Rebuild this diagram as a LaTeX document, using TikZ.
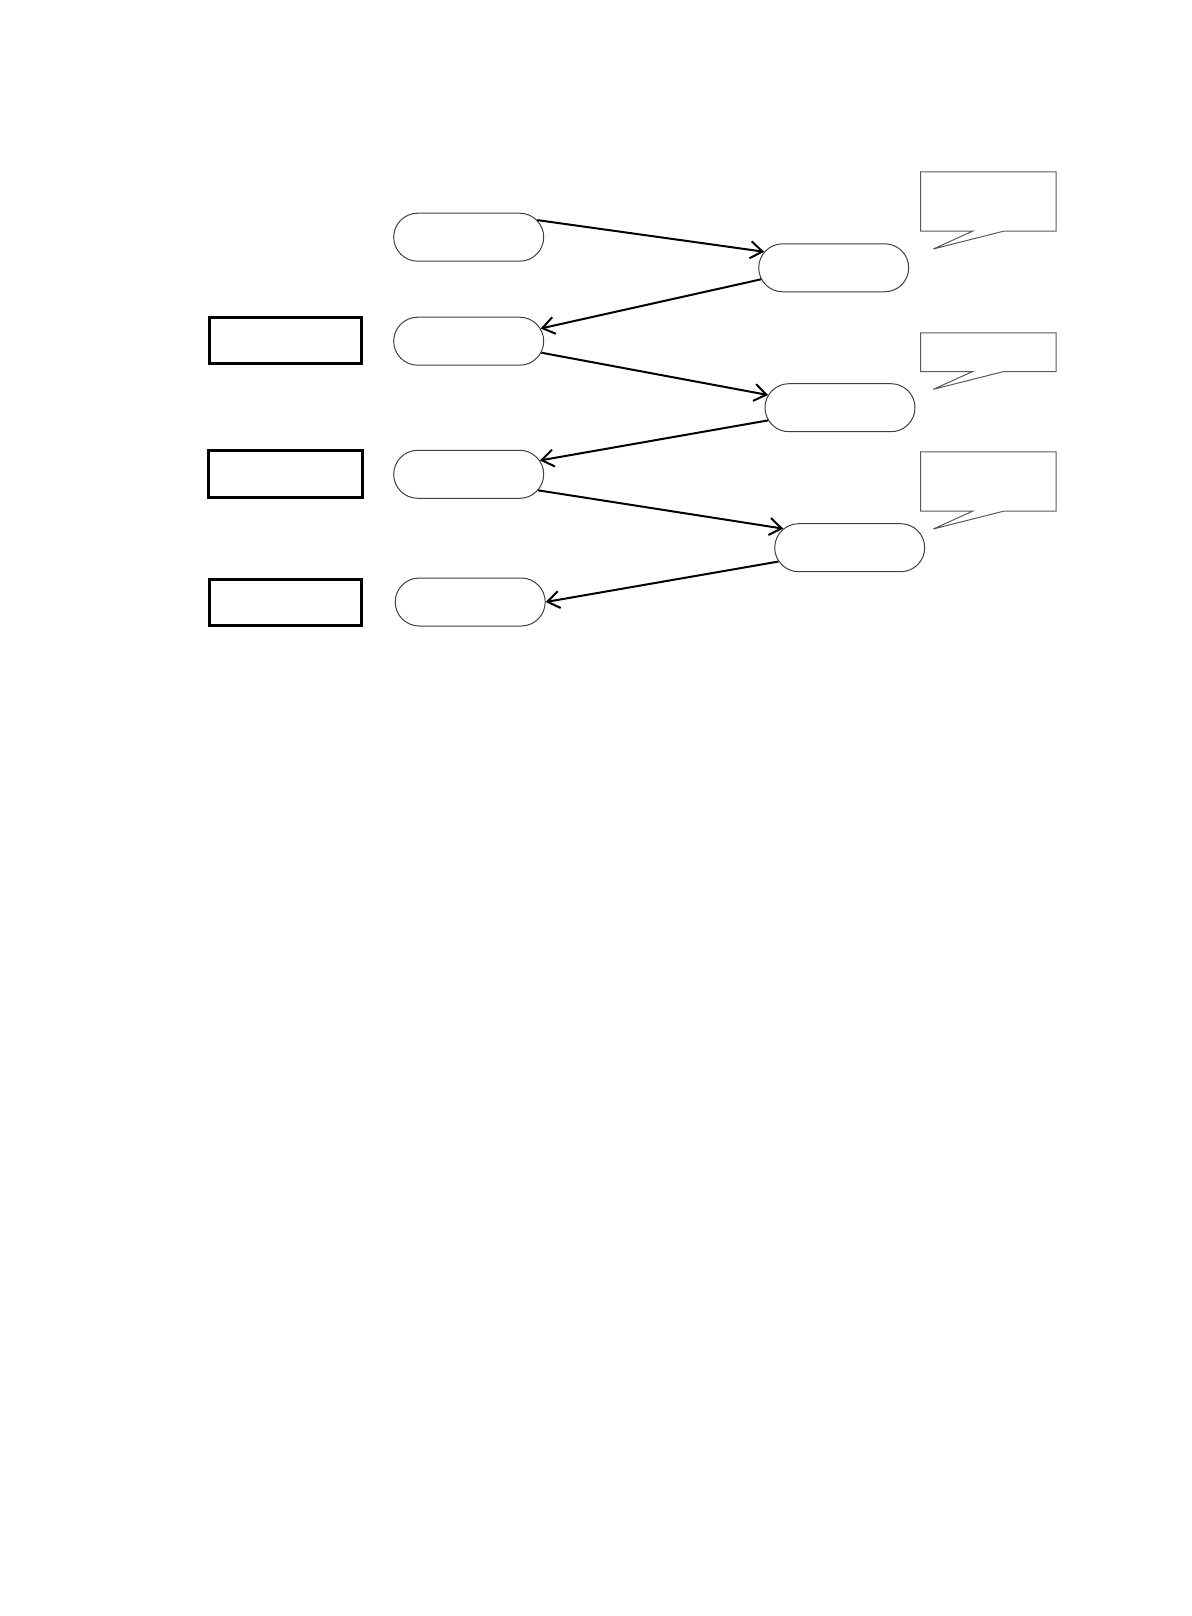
\documentclass[tikz,border=0pt]{standalone}
\usetikzlibrary{shapes.misc,arrows.meta,calc,positioning}
\tikzstyle{state}=[rounded rectangle,draw=black!75,line width=0.5pt,minimum width=75pt,minimum height=24pt,inner sep=0pt]
\tikzstyle{box}=[rectangle,draw,line width=1.5pt,minimum width=76pt,minimum height=23pt,inner sep=0pt]
\tikzstyle{note}=[rectangle,inner sep=0pt,minimum width=67.3pt]
\tikzstyle{notepath}=[draw=black!65,line width=0.5pt,line join=miter]
\tikzstyle{msg}=[line width=1pt,-{Straight Barb[length=6pt,width=8.5pt]}]
\newcommand{\drawmsgs}[1]{
	\foreach \a/\b in {#1}{
		\draw[msg] (\a) -- (\b);
	}
}

\begin{document}
\begin{tikzpicture}[x=0.5pt,y=-0.5pt]
\useasboundingbox (0,0) rectangle (1191,1616);
% left column
\node[state] (s1) at (468.7,237.2) {};
\node[state] (s2) at (468.7,341.2) {};
\node[state] (s3) at (468.7,474.3) {};
\node[state] (s4) at (470.2,602) {};

\node[box] (b1) at (285,340) {};
\node[box,minimum width=77pt,minimum height=23.5pt] (b2) at (285.5,474.2) {};
\node[box] (b3) at (285.3,602.2) {};

% right column
\node[state] (t1) at (833.7,267.8) {};
\node[state] (t2) at (840,407.7) {};
\node[state] (t3) at (849.7,547.7) {};

% notes
\node[note,minimum height=29.2pt] (c1) at (988.3,201.5) {};
\node[note,minimum height=18.9pt] (c2) at (988.3,352.2) {};
\node[note,minimum height=29.2pt] (c3) at (988.3,481.5) {};
\coordinate (p1) at (933.3,249);
\coordinate (p2) at (933.3,389.3);
\coordinate (p3) at (933.3,529);
\foreach \c/\p in {c1/p1,c2/p2,c3/p3}{
	\draw[notepath] (\c.south west) -- (\c.north west) -- (\c.north east) -- (\c.south east)
		-- ($(\c.south)+(7.8pt,0)$) -- (\p) -- ($(\c.south)+(-7.8pt,0)$) -- cycle;
}

\drawmsgs{s1.14/t1.167,t1.189/s2.10,s2.-9/t2.170,t2.190/s3.11,s3.-13/t3.164,t3.191/s4.0}
\end{tikzpicture}
\end{document}
